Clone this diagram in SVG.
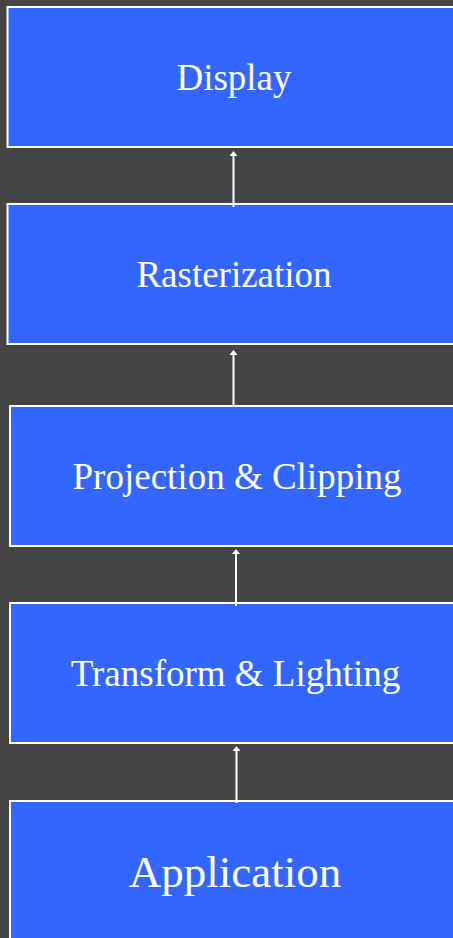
<svg xmlns="http://www.w3.org/2000/svg" width="453" height="938" viewBox="0 0 453 938">
  <style>
    .box { fill: #3366ff; stroke: #ffffff; stroke-width: 2; }
    .label { font-family: "Liberation Serif", "Times New Roman", serif; fill: #ffffff; text-anchor: middle; font-size: 37px; }
    .big { font-size: 45px; }
    .shaft { stroke: #ffffff; stroke-width: 2; }
    .tip { fill: #ffffff; }
  </style>
  <rect width="453" height="938" fill="#444444"/>

  <!-- pipeline stages, top to bottom -->
  <g id="display">
    <rect class="box" x="7.5" y="7" width="460" height="140"/>
    <text class="label" x="234" y="90">Display</text>
  </g>
  <g id="rasterization">
    <rect class="box" x="7.5" y="204" width="460" height="140"/>
    <text class="label" x="234" y="287">Rasterization</text>
  </g>
  <g id="projection">
    <rect class="box" x="10" y="406" width="460" height="140"/>
    <text class="label" x="237" y="489">Projection &amp; Clipping</text>
  </g>
  <g id="transform">
    <rect class="box" x="10" y="603" width="460" height="140"/>
    <text class="label" x="235.5" y="686">Transform &amp; Lighting</text>
  </g>
  <g id="application">
    <rect class="box" x="10" y="801" width="460" height="150"/>
    <text class="label big" x="235" y="887">Application</text>
  </g>

  <!-- upward arrows between stages -->
  <g id="connectors">
    <line class="shaft" x1="233.5" y1="207" x2="233.5" y2="156"/>
    <path class="tip" d="M229.5,156 L237.5,156 L233.5,151 Z"/>
    <line class="shaft" x1="233.5" y1="406" x2="233.5" y2="355"/>
    <path class="tip" d="M229.5,355 L237.5,355 L233.5,350 Z"/>
    <line class="shaft" x1="236" y1="606" x2="236" y2="554"/>
    <path class="tip" d="M232,554 L240,554 L236,549 Z"/>
    <line class="shaft" x1="236.5" y1="803" x2="236.5" y2="751"/>
    <path class="tip" d="M232.5,751 L240.5,751 L236.5,746 Z"/>
  </g>
</svg>
